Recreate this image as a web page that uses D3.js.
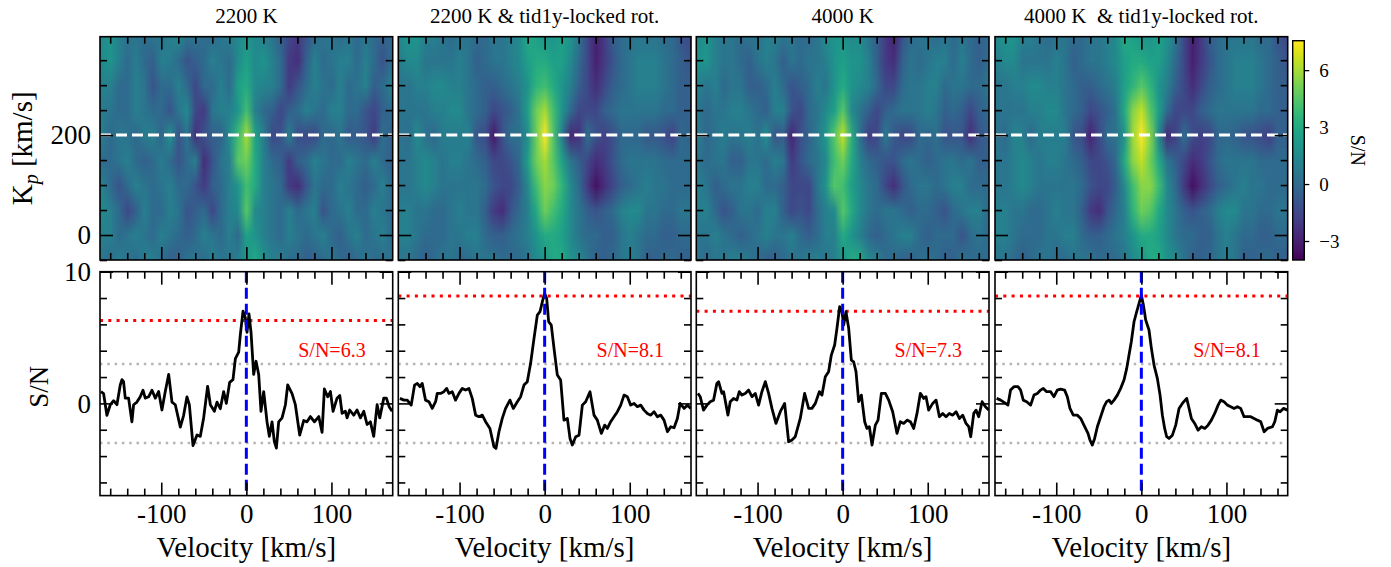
<!DOCTYPE html>
<html>
<head>
<meta charset="utf-8">
<script src="https://cdn.jsdelivr.net/npm/d3@7"></script>
<style>
  body { margin: 0; background: #fff; }
</style>
</head>
<body>
<svg id="fig" width="1391" height="567"></svg>
<script>
// ---- data ----
const titles = ['2200 K', '2200 K & tid1y-locked rot.', '4000 K', '4000 K  & tid1y-locked rot.'];
const snLevel = [6.3, 8.15, 7.0, 8.15];      // red dotted line
const snLabels = ['S/N=6.3', 'S/N=8.1', 'S/N=7.3', 'S/N=8.1'];
const noiseLevel = [3, -3];                 // grey dotted lines
const kpPlanet = 200;

// Kp–Vsys maps: rows Kp (top to bottom), columns velocity
const kpRows = [400, 350, 300, 250, 200, 150, 100, 50, 0, -50];
const velCols = [-170, -160, -150, -140, -130, -120, -110, -100, -90, -80, -70, -60, -50, -40, -30, -20, -10,
  0, 10, 20, 30, 40, 50, 60, 70, 80, 90, 100, 110, 120, 130, 140, 150, 160, 170];

const map1 = [
  [1.5, 2.0, 1.0, 0.5, 0.5, 0, 0.5, 0.5, 1.0, 1.5, 0.5, 0.5, 0, 0, 0.5, 1.0, 1.5, 2.0, 1.5, 1.0, 0.5, -0.5, -1.5, -2.0, -1.0, 0, 0.5, 0.5, 0, 0.5, 0, 0.5, 0, -0.5, 0],
  [1.5, 2.0, 1.0, 0, 0.8, 0, -0.5, 1.0, 0.8, 0, -1.0, -0.5, 0, 1.0, 0.5, 0, 1.5, 2.5, 1.5, 2.0, 1.0, 0, -2.0, -2.5, -0.5, 1.0, 0, 0.5, 1.0, 1.0, 0, 1.0, 0, -1.0, 0],
  [1.0, 1.0, 0, 0, 1.0, 0.5, -1.0, 0, 0, 1.0, 0, -1.5, 0, 0, 1.0, 0, 2.5, 3.0, 1.5, 1.2, 1.0, 0, -2.0, -1.0, 0, 1.0, 0.5, 0, 1.0, 0, 0.5, 1.0, -0.5, 0, 1.0],
  [0.8, 0.5, 0, 0, 1.0, 0.5, 0, 0, -1.0, 0.5, 1.5, -1.5, -2.0, 0.5, 1.0, 1.0, 2.0, 4.0, 1.0, 0, -0.5, -1.5, -0.5, 0, 1.0, 0.5, 0, 1.0, 1.0, 0, 0, -1.0, -1.5, -0.5, 0],
  [0.9, -0.1, 0.6, 0.4, -0.1, 0.8, 1.0, -0.3, 2.0, -1.0, 0.5, -2.4, -1.1, -0.4, -0.4, 1.6, 3.9, 6.0, 2.7, 0.9, -1.4, -1.1, 1.0, -1.2, -1.4, -1.4, 0, -0.2, 0.5, -0.7, -0.6, -0.9, -2.0, 0.2, -0.5],
  [0, 0, 0.5, 1.0, 0, -0.5, 0, 0.8, 0, -1.0, 0, 1.0, -2.5, -1.0, 0.5, 1.0, 4.5, 5.0, 3.0, 1.0, 0, -0.5, -2.0, -0.5, 0, 1.0, 0.5, 0, 0, 1.0, 0.5, 0, 1.0, 0, -0.5],
  [1.0, 0, -1.0, 0, 1.0, 0.5, 0, 0.5, 1.0, 0, 0, -1.0, -2.0, -0.5, 0, 1.0, 2.0, 4.0, 3.0, 1.0, 0.5, 0, -2.0, -2.5, -1.0, 0.5, 0, 0, 1.0, 0.5, 0, -0.5, 0, 1.0, 0],
  [1.5, 1.0, 0, -1.5, -0.5, 1.0, 0, 0, 1.0, 0.5, -1.0, -0.5, 0, -1.5, 0, 1.0, 1.5, 4.5, 1.5, 1.0, 0.5, 0, 1.0, 0, 0.5, 1.0, -1.0, 0, 0.5, 1.0, 0, 0, 1.0, 0.5, 0],
  [1.0, 1.0, 0, 0.5, 1.0, 0.5, 0, 1.0, 0.5, 0, -0.5, 0, 1.0, 0.5, 0, 1.0, 0, 2.5, 2.0, 1.0, 0.5, 0, 1.0, 0.5, 0, 0.5, 1.0, 0, -0.5, 0.5, 1.0, 0, 0.5, 1.0, 0],
  [0.5, 0, 1.0, 0.5, 0, 1.0, 1.0, 0, -0.5, -0.5, 0.5, 0.5, 0, 1.0, 0.5, 0.5, 1.0, 2.0, 3.0, 2.0, 1.0, 1.0, 0, 0, -0.5, -0.5, 0, 0.5, 0, -0.5, 0, 0.5, 0, 0, 0.5]
];
const map2 = [
  [1.5, 2.0, 2.0, 1.0, 1.0, 0.5, 0, 0.5, 0.5, 0, 0, 0.5, 0.5, 1.0, 1.5, 3.0, 2.5, 2.0, 2.0, 2.5, 2.0, 0.5, -1.5, -3.0, -2.0, -0.5, 0, 0.5, 0.5, 0.5, 0.5, 0, 0, -1.0, -1.5],
  [1.0, 1.5, 1.5, 0.5, 0.5, 0.5, 0.5, 1.0, 0.5, -0.5, 0, 0.5, 0.5, 1.0, 1.5, 2.5, 3.0, 3.0, 2.5, 2.5, 1.5, 0, -1.5, -3.0, -2.0, -1.0, 0, 0.5, 1.0, 1.0, 1.0, 0.5, 0, -0.5, -1.0],
  [0.5, 0.5, 1.0, 1.0, 1.5, 1.5, 1.0, 1.0, 0.5, 0, -0.5, -0.5, 0, 0.5, 1.0, 2.0, 3.5, 4.0, 3.0, 2.0, 1.0, -0.5, -1.5, -2.5, -1.5, -0.5, 0, 0.5, 1.0, 1.0, 1.0, 0.5, 0, -0.5, -0.5],
  [0.5, 0.5, 0.5, 0.5, 1.0, 1.0, 1.5, 1.5, 0.5, 0, -0.5, -1.5, -1.0, -0.5, 0.5, 2.5, 5.0, 6.0, 4.0, 2.0, 0, -1.5, -1.5, -1.5, -0.5, 0, 0.5, 0.5, 0.5, 0.5, 0.5, 0, 0, -0.5, -0.5],
  [0.38, 0.2, 1.5, 0.25, -0.2, 0.9, 0.8, 0.8, 1.1, -0.9, -1.3, -3.2, -1.1, 0.2, 0.3, 1.7, 5.0, 8.3, 4.3, 0.8, -2.7, -2.4, 0.3, -1.1, -1.7, -1.2, -0.1, -0.1, -0.2, -0.8, -0.8, -1.1, -1.8, 0, -0.4],
  [0.5, 0.5, 1.0, 1.5, 1.0, 0.5, 1.0, 1.0, 0.5, 0, -0.5, -1.5, -1.5, -1.0, 0, 2.5, 5.0, 6.0, 4.5, 2.5, 0.5, -0.5, -1.5, -2.5, -2.0, -1.0, 0, 0.5, 0.5, 0.5, 0.5, 0, 0, 0, 0],
  [0.5, 0.5, 1.0, 1.5, 1.0, 0.5, 0.5, 0.5, 0.5, 0.5, 0, -1.0, -1.5, -1.5, -0.5, 1.5, 4.0, 5.5, 5.0, 3.5, 1.5, 0, -2.0, -3.5, -2.5, -1.5, -0.5, 0, 0.5, 1.0, 0.5, 0.5, 0, 0, 0],
  [1.0, 1.0, 0.5, 0.5, 0, 0, 0.5, 1.0, 0.5, 0.5, -0.5, -2.0, -2.5, -1.0, 0, 1.0, 3.0, 5.0, 4.0, 3.0, 1.5, 0.5, -0.5, -1.0, -0.5, 0, 1.0, 1.5, 1.5, 0.5, 0.5, 0, 0, 0.5, 0.5],
  [1.0, 1.0, 0.5, 0, 0, 0, 0.5, 0.5, 1.0, 1.0, 0, -0.5, -0.5, 0, 0.5, 1.0, 2.0, 3.0, 3.0, 2.5, 1.5, 0.5, 0, 0, -0.5, -0.5, 0.5, 1.0, 0.5, 0, 0, -0.5, -0.5, 0, 0],
  [0.5, 0.5, 0, -0.5, 0, 0.5, 0.5, 0, 0, 0.5, 0.5, 0.5, 0, 0, 0, 0.5, 1.5, 2.0, 3.0, 3.0, 2.0, 1.5, 0.5, -0.5, -0.5, 0, 0.5, 1.0, 0.5, -0.5, -0.5, 0, 0, -0.5, -0.5]
];
const map3 = [
  [1.5, 2.0, 1.0, 0.5, 0.5, 0, 0.5, 0.5, 1.0, 1.0, 0.5, 0.5, 0, 0, 0.5, 1.5, 2.0, 2.0, 1.5, 1.5, 0.5, -0.5, -2.0, -3.0, -1.0, 0, 0.5, 0.5, 0, 0.5, 0, 0.5, 0, -0.5, 0],
  [2.0, 2.0, 1.0, 0.5, 0.5, 0, -0.5, 0.5, 1.0, 0.5, -0.5, 0.5, 0, 0.5, 0.5, 1.0, 2.0, 2.5, 2.0, 2.0, 1.0, -0.5, -2.0, -2.5, -0.5, 0.5, 0, 0.5, 1.0, 1.0, 0, 1.0, 0, -0.5, 0],
  [1.0, 0.5, 1.0, 0, 0.5, 0.5, -0.5, -0.5, 0, 1.0, 0, -1.0, -0.5, 0, 1.0, 0.5, 2.0, 3.0, 2.0, 1.5, 1.0, 0, -1.5, -1.5, 0, 0.5, 0.5, 1.0, 1.0, 0, 0.5, 0.5, 0, 0, 0.5],
  [0.5, 0, 0.5, 0.5, 1.0, 1.0, 0.5, 0, -0.5, 1.0, 1.0, -1.0, -1.5, 0, 0.5, 1.5, 2.5, 4.5, 1.5, 0.5, -0.5, -1.5, -0.5, 0, 0.5, 0.5, 0.5, 1.0, 0.5, -0.5, 0, -0.5, -1.5, -0.5, 0],
  [0.76, -0.13, 0.25, 0.89, 0.38, 0.63, 1.0, 0.3, 1.65, -0.9, -0.6, -2.8, -1.14, -0.38, 0.8, 2.1, 4.5, 6.5, 3.3, 0.3, -1.8, -1.5, 0.76, -0.8, -1.5, -1.4, 0, -0.2, 0.2, -1.0, -0.9, -0.9, -2.5, -1.0, -0.5],
  [0.5, 0, 0.5, 0.5, -0.5, -0.5, 0.5, 0.5, 0, 1.0, 0.5, -2.0, -1.0, 0, 0.5, 1.5, 4.0, 5.0, 3.0, 1.0, 0, -0.5, -1.0, -1.0, 0, 0.5, 0, -0.5, 0, 0.5, 0.5, 0, 0.5, -0.5, -0.5],
  [1.0, 0.5, -0.5, 0, 0.5, 0.5, 1.0, 1.0, 0, 0, -0.5, -1.5, -1.5, -1.5, 0.5, 2.0, 4.5, 4.0, 2.5, 1.5, 0.5, 0, -1.5, -2.5, -1.0, 0, 0.5, 0.5, 0, 0.5, 1.0, 1.0, 0, 0, 0],
  [1.0, 1.0, 0, -1.0, -0.5, 0.5, 0.5, 0, 1.0, 1.0, -0.5, -1.5, -1.0, -1.5, 0, 1.0, 1.5, 4.5, 3.0, 1.5, 0.5, 0, 0.5, 0.5, 0, -0.5, 0, 0, -0.5, -1.0, 0, 0.5, 1.0, 1.0, 0],
  [0.5, 0.5, 1.0, 0.5, 0, -0.5, 0, 0.5, 1.0, 0.5, 0.5, 1.0, 0, -0.5, 0, 1.0, 1.0, 3.0, 2.0, 1.0, 0, -0.5, 0, 0.5, 1.0, 1.0, 0, -0.5, 0, 0, 0, -1.0, 0, 0.5, 0],
  [0.5, 0, 0.5, 0.5, 1.0, 1.0, 0.5, 0, -0.5, -0.5, 0, 0.5, 0.5, 1.0, 1.0, 0.5, 1.0, 2.0, 3.0, 3.0, 1.5, 1.0, 0, 0, -0.5, -0.5, 0, 0.5, 0, -0.5, -0.5, 0.5, 0, 0, 0]
];
const map4 = [
  [1.5, 2.0, 2.0, 1.0, 1.0, 0.5, 0, 0.5, 0.5, 0, 0, 0.5, 0.5, 1.0, 1.5, 3.0, 2.5, 2.0, 2.0, 2.5, 2.0, 0.5, -1.5, -3.0, -2.0, -0.5, 0, 0.5, 0.5, 0.5, 0.5, 0, 0, -1.0, -1.5],
  [1.0, 1.5, 1.5, 0.5, 0.5, 0.5, 0.5, 1.0, 0.5, -0.5, 0, 0.5, 0.5, 1.0, 1.5, 2.5, 3.0, 3.0, 2.5, 2.5, 1.5, 0, -1.5, -3.0, -2.0, -1.0, 0, 0.5, 1.0, 1.0, 1.0, 0.5, 0, -0.5, -1.0],
  [0.5, 0.5, 1.0, 1.0, 1.5, 1.5, 1.0, 1.0, 0.5, 0, -0.5, -0.5, 0, 0.5, 1.0, 2.5, 3.5, 4.5, 3.5, 2.0, 1.0, -0.5, -1.5, -2.5, -1.5, -0.5, 0, 0.5, 1.0, 1.0, 1.0, 0.5, 0, -0.5, -0.5],
  [0.5, 0.5, 0.5, 0.5, 1.0, 1.0, 1.5, 1.5, 0.5, 0, -0.5, -1.5, -1.0, -0.5, 0.5, 3.0, 5.5, 6.5, 4.5, 2.5, 0, -1.5, -1.5, -1.5, -0.5, 0, 0.5, 0.5, 0.5, 0.5, 0.5, 0, 0, -0.5, -0.5],
  [0.38, 0, 1.27, 1.0, -0.1, 0.9, 0.9, 0.8, 1.0, -0.9, -1.3, -2.9, -1.4, 0.15, 0.4, 1.9, 5.8, 8.2, 5.5, 1.5, -2.6, -1.7, 0.2, -1.3, -1.8, -1.5, -0.2, -0.1, -0.35, -1.0, -1.1, -1.4, -1.8, -0.5, -0.5],
  [0.5, 0.5, 1.0, 1.5, 1.0, 0.5, 1.0, 1.0, 0.5, 0, -0.5, -1.5, -1.5, -1.0, 0, 3.0, 5.5, 6.5, 5.0, 3.0, 0.5, -0.5, -1.5, -2.5, -2.0, -1.0, 0, 0.5, 0.5, 0.5, 0.5, 0, 0, 0, 0],
  [0.5, 0.5, 1.0, 1.5, 1.0, 0.5, 0.5, 0.5, 0.5, 0.5, 0, -1.0, -1.5, -1.5, -0.5, 1.5, 4.0, 5.5, 5.5, 4.0, 1.5, 0, -2.0, -3.5, -2.5, -1.5, -0.5, 0, 0.5, 1.0, 0.5, 0.5, 0, 0, 0],
  [1.0, 1.0, 0.5, 0.5, 0, 0, 0.5, 1.0, 0.5, 0.5, -0.5, -2.0, -2.5, -1.0, 0, 1.0, 3.5, 5.0, 4.5, 3.0, 1.5, 0.5, -0.5, -1.0, -0.5, 0, 1.0, 1.5, 1.5, 0.5, 0.5, 0, 0, 0.5, 0.5],
  [1.0, 1.0, 0.5, 0, 0, 0, 0.5, 0.5, 1.0, 1.0, 0, -0.5, -0.5, 0, 0.5, 1.0, 2.0, 3.0, 3.0, 2.5, 1.5, 0.5, 0, 0, -0.5, -0.5, 0.5, 1.0, 0.5, 0, 0, -0.5, -0.5, 0, 0],
  [0.5, 0.5, 0, -0.5, 0, 0.5, 0.5, 0, 0, 0.5, 0.5, 0.5, 0, 0, 0, 0.5, 1.5, 2.0, 3.0, 3.0, 2.0, 1.5, 0.5, -0.5, -0.5, 0, 0.5, 1.0, 0.5, -0.5, -0.5, 0, 0, -0.5, -0.5]
];

// S/N cuts at Kp = 200 km/s
const vel1 = [-170.9, -167.8, -163.9, -159.9, -156.0, -152.1, -148.2, -146.2, -144.3, -142.3, -138.4, -134.5, -132.5, -128.6, -124.7, -121.5, -118.8, -114.9, -110.9, -107.0, -103.1, -99.2, -95.3, -91.3, -87.4, -83.5, -77.6, -73.7, -69.8, -67.0, -62.7, -58.0, -54.1, -50.2, -45.5, -42.3, -37.6, -34.5, -30.6, -26.7, -23.5, -19.6, -15.7, -12.9, -9.0, -7.1, -3.9, -1.2, 0.8, 3.1, 5.5, 8.6, 11.4, 14.5, 17.2, 20.4, 24.3, 27.0, 30.2, 32.9, 35.3, 38.0, 42.0, 45.9, 48.6, 53.7, 57.6, 62.7, 67.4, 71.3, 75.3, 80.0, 85.1, 89.0, 91.7, 95.6, 98.8, 101.9, 106.6, 109.8, 112.5, 116.4, 118.4, 121.5, 126.2, 130.1, 134.1, 138.0, 141.9, 145.8, 149.7, 153.7, 156.8, 161.5, 164.6, 167.8, 171.3];
const sn1 = [0.9, 0.75, -0.9, -0.1, 0.2, -0.1, 1.4, 1.8, 1.65, 0.4, 0.4, -1.4, -0.1, 0.1, 0.5, 1.0, 0.4, 0.5, 1.0, 0.4, 0.9, -0.5, 0.9, 2.2, 0.1, -0.1, -1.8, -0.9, 0.5, -0.1, -3.2, -2.4, -2.5, -1.1, 1.3, -0.1, -0.6, 0.1, -0.4, 0.9, 0.0, 1.6, 1.8, 3.4, 3.9, 5.2, 7.0, 6.5, 5.4, 6.8, 5.4, 2.2, 3.2, 2.2, -0.6, 0.9, -1.4, -2.5, -1.4, -2.9, -3.4, -1.4, -1.1, -0.1, 1.4, 0.75, -0.1, -2.4, -1.3, -1.4, -1.0, -1.4, -1.0, -2.2, 1.1, 0.5, 0.9, -0.6, 0.4, 0.6, -0.75, -0.6, -1.1, -0.5, -0.9, -0.5, -1.1, -0.6, -1.6, -1.4, -2.5, -0.1, -1.1, 0.4, 0.4, -0.25, -0.6];

const vel2 = [-170.1, -165.4, -161.5, -156.8, -152.9, -149.7, -146.6, -143.9, -140.0, -136.0, -132.1, -128.2, -126.2, -122.3, -118.4, -115.2, -112.5, -108.6, -104.7, -100.7, -96.8, -92.9, -89.0, -85.1, -81.1, -77.2, -73.3, -69.4, -64.3, -59.6, -57.2, -53.7, -49.8, -45.9, -40.8, -36.8, -32.1, -28.2, -24.3, -20.4, -16.5, -12.5, -8.6, -5.5, -2.7, 0, 2.4, 4.7, 7.8, 11.0, 14.9, 18.8, 22.7, 26.7, 29.8, 32.5, 36.5, 40.4, 44.3, 48.2, 53.3, 58.0, 61.9, 66.6, 70.6, 73.7, 77.6, 81.5, 85.5, 89.4, 93.3, 97.2, 101.1, 105.1, 109.0, 112.9, 116.8, 120.7, 124.7, 128.6, 132.5, 136.4, 140.3, 144.3, 148.2, 152.1, 156.0, 159.2, 163.9, 167.8, 171.7];
const sn2 = [0.38, 0.25, 0.25, -0.13, 1.39, 1.52, 1.27, 1.52, 0.25, 0.13, -0.38, 0.13, 0.76, 0.76, 0.89, 1.14, 0.76, 0.89, 0.25, 0.76, 1.14, 1.01, 1.14, 0.38, -0.89, -1.01, -0.89, -1.39, -1.9, -3.29, -3.42, -2.15, -1.14, -0.38, 0.25, -0.38, 0.13, 0.51, 1.39, 1.65, 3.04, 4.94, 6.71, 6.96, 7.72, 8.35, 7.97, 6.2, 5.95, 4.18, 2.15, 1.77, -1.27, -1.14, -2.66, -3.16, -2.53, -2.41, -0.13, 0.13, 0.89, -0.89, -1.27, -2.28, -1.65, -1.9, -1.39, -1.01, -0.63, -0.13, 0.63, 0.51, -0.13, 0, -0.25, -0.13, -0.51, -0.76, -0.89, -0.63, -1.01, -0.89, -1.27, -2.15, -1.77, -1.85, -1.14, 0, -0.38, -0.13, -0.38];

const vel3 = [-170.1, -167.4, -163.5, -159.5, -155.6, -151.7, -147.8, -145.8, -141.9, -139.9, -134.8, -132.1, -128.2, -124.3, -121.5, -118.4, -114.5, -110.5, -106.6, -102.7, -98.8, -94.9, -90.9, -87.0, -83.1, -78.4, -73.3, -68.2, -63.5, -59.6, -55.7, -49.8, -44.7, -40.0, -36.1, -32.1, -27.4, -24.3, -20.4, -16.5, -13.3, -9.4, -6.7, -3.5, -0.8, 1.2, 3.9, 7.1, 10.2, 12.9, 15.7, 18.8, 22.0, 25.9, 28.6, 31.4, 34.5, 38.4, 41.6, 45.5, 50.2, 54.1, 58.8, 63.9, 67.8, 71.7, 75.7, 79.6, 83.5, 87.4, 91.3, 95.3, 98.0, 101.1, 105.8, 109.8, 113.7, 117.6, 121.5, 125.4, 129.4, 133.3, 137.2, 141.1, 145.0, 148.2, 150.5, 154.1, 156.8, 159.9, 163.9, 167.8, 171.7];
const sn3 = [0.76, 0.51, -0.51, -0.13, 0.13, 0.25, 1.52, 1.65, 0.76, 0.89, -0.89, 0.13, 0.38, 0.25, 0.89, 0.63, 0.76, 1.01, 0.51, 0.76, -0.13, 0.89, 1.65, 0.76, -0.38, -1.52, -0.63, 0, -2.91, -2.78, -2.53, -1.14, 0.76, -0.38, -0.38, 0, 0.89, 0.63, 2.03, 2.41, 3.67, 4.43, 5.7, 7.34, 6.96, 5.95, 6.96, 5.7, 3.29, 3.16, 2.41, 0.13, 0.63, -1.39, -1.9, -1.77, -3.16, -1.65, -1.27, 0.76, 0.76, 0.25, -0.63, -2.28, -1.39, -1.52, -1.27, -1.39, -1.9, -0.76, 0.76, 0.38, 0.51, -0.51, 0, 0.25, -1.01, -0.76, -1.01, -0.76, -0.89, -0.63, -1.14, -0.89, -1.52, -1.77, -2.53, -0.76, -0.51, -1.01, 0.13, -0.25, -0.51];

const vel4 = [-170.1, -165.4, -159.5, -156.8, -153.7, -149.7, -145.0, -141.9, -138.8, -134.8, -130.1, -126.2, -122.3, -118.4, -115.2, -111.3, -106.6, -102.7, -98.8, -94.9, -90.2, -87.0, -83.9, -80.0, -75.3, -71.3, -66.6, -62.7, -60.4, -57.6, -54.9, -51.7, -47.8, -43.9, -40.8, -38.0, -35.3, -32.1, -28.2, -24.3, -20.4, -17.2, -14.5, -11.8, -8.6, -5.5, -2.7, 0, 2.4, 5.1, 9.0, 11.8, 14.9, 18.8, 22.0, 24.7, 27.4, 29.8, 32.5, 36.5, 40.4, 44.3, 48.2, 53.3, 56.1, 58.8, 62.7, 66.6, 70.6, 74.5, 78.4, 82.3, 86.2, 90.2, 93.3, 97.2, 101.1, 105.1, 109.0, 112.9, 116.8, 120.7, 124.7, 128.6, 132.5, 136.4, 140.3, 144.3, 148.2, 154.1, 156.8, 159.9, 163.1, 167.0, 171.7];
const sn4 = [0.38, 0.25, 0, -0.13, 1.01, 1.27, 1.27, 1.01, 0.25, 0.13, -0.13, 0.63, 0.76, 1.01, 1.14, 0.89, 0.89, 0.51, 1.01, 1.09, 1.01, 0.51, -0.38, -0.89, -0.89, -1.14, -1.77, -2.28, -2.78, -3.16, -2.66, -1.77, -1.01, -0.25, 0.13, 0.25, 0, 0.25, 0.63, 1.14, 1.77, 2.66, 3.67, 4.68, 6.2, 6.96, 7.59, 8.23, 7.47, 6.33, 5.57, 4.18, 2.91, 1.9, 0.63, -0.89, -1.9, -2.53, -2.66, -2.41, -1.65, -0.38, 0, 0.38, -0.38, -1.14, -1.52, -2.03, -1.77, -1.9, -1.65, -1.27, -0.76, -0.13, 0.25, 0.13, -0.13, -0.25, -0.38, -0.25, -0.38, -1.01, -1.01, -1.01, -1.14, -1.27, -1.39, -2.15, -1.9, -1.77, -1.39, -0.51, -0.63, -0.38, -0.51];

const maps = [map1, map2, map3, map4];
const cuts = [[vel1, sn1], [vel2, sn2], [vel3, sn3], [vel4, sn4]];

// ---- layout ----
const FONT = '"Liberation Serif"';
const svg = d3.select('#fig');
const panelX = [100, 398.3, 696.3, 995];
const panelW = 292.7;
const topY = [36.7, 260];
const botY = [271.7, 495.6];
const velDomain = [-172, 172];
const kpDomain = [-50, 397];
const snDomain = [-7, 10];
const cDomain = [-4.0, 7.55];
const color = d3.scaleSequential(cDomain, d3.interpolateViridis);

const MAJ = 13, MIN = 7;
const defs = svg.append('defs');

// text helper: font set inline so nothing else can override it
const addText = (parent, size) => parent.append('text')
  .attr('font-size', size)
  .style('font-family', FONT);

const heatImage = grid => {
  const canvas = document.createElement('canvas');
  canvas.width = velCols.length;
  canvas.height = kpRows.length;
  const ctx = canvas.getContext('2d');
  grid.forEach((row, j) => row.forEach((val, i) => {
    ctx.fillStyle = color(val);
    ctx.fillRect(i, j, 1, 1);
  }));
  return canvas.toDataURL();
};

// ticks on all four sides, pointing inwards
const drawTicks = (g, x, y, { xMajor, xMinor, yMajor, yMinor, xLabels, yLabels }) => {
  const [x0, x1] = x.range();
  const [y1, y0] = y.range();
  const sides = [
    [d3.axisBottom, x, `translate(0,${y1})`, xMajor, xMinor, xLabels],
    [d3.axisTop, x, `translate(0,${y0})`, xMajor, xMinor, false],
    [d3.axisLeft, y, `translate(${x0},0)`, yMajor, yMinor, yLabels],
    [d3.axisRight, y, `translate(${x1},0)`, yMajor, yMinor, false]
  ];
  sides.forEach(([axisFn, sc, tr, major, minor, labels]) => {
    g.append('g').attr('transform', tr)
      .call(axisFn(sc).tickValues(minor).tickSize(-MIN).tickFormat(''))
      .call(a => a.select('.domain').remove());
    const ga = g.append('g').attr('transform', tr)
      .call(axisFn(sc).tickValues(major).tickSize(-MAJ).tickPadding(axisFn === d3.axisBottom ? 8 : 9)
        .tickFormat(labels ? d => String(d) : ''))
      .call(a => a.select('.domain').remove());
    ga.selectAll('text').attr('font-size', 27).attr('fill', '#000')
      .style('font-family', FONT);
  });
  g.selectAll('.tick line').attr('stroke', '#000').attr('stroke-width', 1.6);
};

panelX.forEach((px, k) => {
  const x = d3.scaleLinear(velDomain, [px, px + panelW]);

  // --- top: Kp-Vsys map ---
  const yTop = d3.scaleLinear(kpDomain, [topY[1], topY[0]]);
  const gt = svg.append('g');
  defs.append('clipPath').attr('id', `clipT${k}`)
    .append('rect').attr('x', px).attr('y', topY[0]).attr('width', panelW).attr('height', topY[1] - topY[0]);
  const dKp = kpRows[0] - kpRows[1];
  const dV = velCols[1] - velCols[0];
  const xa = x(velCols[0] - dV / 2), xb = x(velCols[velCols.length - 1] + dV / 2);
  const ya = yTop(kpRows[0] + dKp / 2), yb = yTop(kpRows[kpRows.length - 1] - dKp / 2);
  gt.append('image')
    .attr('href', heatImage(maps[k]))
    .attr('preserveAspectRatio', 'none')
    .attr('x', xa).attr('width', xb - xa)
    .attr('y', ya).attr('height', yb - ya)
    .attr('clip-path', `url(#clipT${k})`);
  gt.append('line')
    .attr('x1', px).attr('x2', px + panelW)
    .attr('y1', yTop(kpPlanet)).attr('y2', yTop(kpPlanet))
    .attr('stroke', '#fff').attr('stroke-width', 3).attr('stroke-dasharray', '11,5');
  drawTicks(gt, x, yTop, {
    xMajor: [-100, 0, 100], xMinor: d3.range(-160, 161, 20).filter(v => v % 100 !== 0),
    yMajor: [0, 200], yMinor: d3.range(-50, 400, 50).filter(v => v % 200 !== 0),
    xLabels: false, yLabels: k === 0
  });
  gt.append('rect').attr('x', px).attr('y', topY[0]).attr('width', panelW).attr('height', topY[1] - topY[0])
    .attr('fill', 'none').attr('stroke', '#000').attr('stroke-width', 1.6);
  addText(svg, 21).attr('x', px + panelW / 2).attr('y', 23)
    .attr('text-anchor', 'middle').style('white-space', 'pre')
    .text(titles[k]);

  // --- bottom: S/N cut ---
  const yBot = d3.scaleLinear(snDomain, [botY[1], botY[0]]);
  const gb = svg.append('g');
  defs.append('clipPath').attr('id', `clipB${k}`)
    .append('rect').attr('x', px).attr('y', botY[0]).attr('width', panelW).attr('height', botY[1] - botY[0]);
  const inner = gb.append('g').attr('clip-path', `url(#clipB${k})`);
  noiseLevel.forEach(lv => {
    inner.append('line').attr('x1', px).attr('x2', px + panelW)
      .attr('y1', yBot(lv)).attr('y2', yBot(lv))
      .attr('stroke', '#b4b4b4').attr('stroke-width', 2.5).attr('stroke-dasharray', '2.5,4.8');
  });
  inner.append('line').attr('x1', px).attr('x2', px + panelW)
    .attr('y1', yBot(snLevel[k])).attr('y2', yBot(snLevel[k]))
    .attr('stroke', '#ff0000').attr('stroke-width', 3).attr('stroke-dasharray', '3,5.3');
  const [vel, sn] = cuts[k];
  inner.append('path')
    .datum(d3.zip(vel, sn))
    .attr('d', d3.line().x(d => x(d[0])).y(d => yBot(d[1])))
    .attr('fill', 'none').attr('stroke', '#000').attr('stroke-width', 2.8)
    .attr('stroke-linejoin', 'round');
  inner.append('line').attr('x1', x(0)).attr('x2', x(0))
    .attr('y1', botY[0]).attr('y2', botY[1])
    .attr('stroke', '#0000ff').attr('stroke-width', 3).attr('stroke-dasharray', '11,5');
  addText(gb, 20).attr('x', x(61)).attr('y', yBot(3.5))
    .attr('fill', '#ff0000').text(snLabels[k]);
  drawTicks(gb, x, yBot, {
    xMajor: [-100, 0, 100], xMinor: d3.range(-160, 161, 20).filter(v => v % 100 !== 0),
    yMajor: [0, 10], yMinor: d3.range(-6, 10, 2).filter(v => v !== 0),
    xLabels: true, yLabels: k === 0
  });
  gb.append('rect').attr('x', px).attr('y', botY[0]).attr('width', panelW).attr('height', botY[1] - botY[0])
    .attr('fill', 'none').attr('stroke', '#000').attr('stroke-width', 1.6);
  addText(svg, 29).attr('x', px + panelW / 2).attr('y', 557)
    .attr('text-anchor', 'middle').text('Velocity [km/s]');
});

// y labels
const kpLabel = addText(svg, 29)
  .attr('transform', `translate(32,${(topY[0] + topY[1]) / 2}) rotate(-90)`)
  .attr('text-anchor', 'middle');
kpLabel.append('tspan').text('K');
kpLabel.append('tspan').attr('font-style', 'italic').attr('font-size', 20).attr('dy', 6).text('p');
kpLabel.append('tspan').attr('dy', -6).text(' [km/s]');

addText(svg, 27)
  .attr('transform', `translate(48,${(botY[0] + botY[1]) / 2 + 3}) rotate(-90)`)
  .attr('text-anchor', 'middle').text('S/N');

// colorbar
const cb = { x: 1292.7, w: 11.6, y0: 40.7, y1: 260 };
const cScale = d3.scaleLinear(cDomain, [cb.y1, cb.y0]);
const grad = defs.append('linearGradient').attr('id', 'cbar')
  .attr('x1', 0).attr('y1', 1).attr('x2', 0).attr('y2', 0);
d3.range(0, 1.0001, 0.02).forEach(t => {
  grad.append('stop').attr('offset', t).attr('stop-color', d3.interpolateViridis(t));
});
svg.append('rect').attr('x', cb.x).attr('y', cb.y0).attr('width', cb.w).attr('height', cb.y1 - cb.y0)
  .attr('fill', 'url(#cbar)').attr('stroke', '#000').attr('stroke-width', 1.4);
const cAxis = svg.append('g').attr('transform', `translate(${cb.x + cb.w},0)`)
  .call(d3.axisRight(cScale).tickValues([-3, 0, 3, 6]).tickSize(5).tickPadding(10).tickFormat(d3.format('d')))
  .call(a => a.select('.domain').remove());
cAxis.selectAll('text').attr('font-size', 19).attr('fill', '#000').style('font-family', FONT);
cAxis.selectAll('line').attr('stroke', '#000').attr('stroke-width', 1.3);
addText(svg, 20)
  .attr('transform', `translate(1351,${(cb.y0 + cb.y1) / 2}) rotate(90)`)
  .attr('text-anchor', 'middle').text('S/N');
</script>
</body>
</html>
